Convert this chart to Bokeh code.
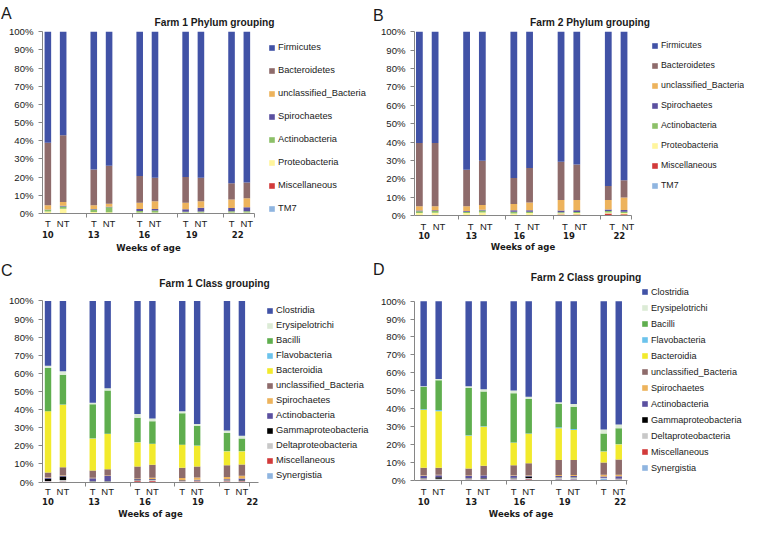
from bokeh.plotting import figure
from bokeh.models import (ColumnDataSource, Range1d, FixedTicker, LinearAxis, Legend,
                          LegendItem, Label, PrintfTickFormatter)
from bokeh.layouts import column, row
from bokeh.embed import file_html
from bokeh.resources import INLINE

# ---------------- data ----------------
SAMPLES = ["T10", "NT10", "T13", "NT13", "T16", "NT16", "T19", "NT19", "T22", "NT22"]
SLOT = [0, 1, 3, 4, 6, 7, 9, 10, 12, 13]
TREAT = ["T", "NT", "T", "NT", "T", "NT", "T", "NT", "T", "NT"]
WEEKS = ["10", "13", "16", "19", "22"]
GROUP_EDGES = [2.5, 5.5, 8.5, 11.5, 13.5]
Y_TICKS = [0, 10, 20, 30, 40, 50, 60, 70, 80, 90, 100]

PHYLA = ["TM7", "Miscellaneous", "Proteobacteria", "Actinobacteria", "Spirochaetes",
         "unclassified_Bacteria", "Bacteroidetes", "Firmicutes"]          # bottom -> top
CLASSES = ["Synergistia", "Miscellaneous", "Deltaproteobacteria", "Gammaproteobacteria",
           "Actinobacteria", "Spirochaetes", "unclassified_Bacteria", "Bacteroidia",
           "Flavobacteria", "Bacilli", "Erysipelotrichi", "Clostridia"]     # bottom -> top

# Farm 1, phylum (%)
F1P_TM7 = [0.1, 0.1, 0.1, 0.1, 0.1, 0.1, 0.1, 0.1, 0.1, 0.1]
F1P_MISC = [0.1, 0.1, 0.1, 0.1, 0.1, 0.1, 0.1, 0.1, 0.1, 0.1]
F1P_PROTEO = [0.9, 2.4, 0.6, 0.5, 0.4, 0.4, 0.3, 0.3, 0.3, 0.3]
F1P_ACTINO = [0.9, 1.3, 1.4, 2.7, 0.8, 1.0, 0.5, 0.6, 0.7, 0.8]
F1P_SPIRO = [0.2, 0.3, 0.3, 0.3, 1.1, 0.9, 1.3, 2.0, 1.8, 2.2]
F1P_UNCL = [2.3, 2.1, 2.0, 1.7, 3.4, 4.3, 3.6, 3.7, 4.7, 4.9]
F1P_BACT = [34.4, 36.7, 19.7, 20.9, 14.7, 12.9, 14.2, 12.9, 9.0, 8.6]
F1P_FIRM = [61.1, 57.0, 75.8, 73.7, 79.4, 80.3, 79.9, 80.3, 83.3, 83.0]

# Farm 2, phylum (%)
F2P_TM7 = [0.1, 0.1, 0.1, 0.1, 0.1, 0.1, 0.1, 0.1, 0.1, 0.1]
F2P_MISC = [0.1, 0.1, 0.1, 0.1, 0.2, 0.2, 0.5, 0.5, 1.0, 0.6]
F2P_PROTEO = [1.2, 1.3, 1.1, 1.5, 0.8, 1.0, 0.6, 0.7, 0.6, 0.6]
F2P_ACTINO = [0.9, 0.9, 0.8, 1.0, 1.0, 0.8, 0.6, 0.6, 0.7, 0.8]
F2P_SPIRO = [0.4, 0.4, 0.4, 0.4, 0.7, 0.7, 0.9, 0.9, 0.8, 0.9]
F2P_UNCL = [2.3, 2.2, 2.5, 2.6, 3.4, 4.3, 5.8, 5.7, 5.3, 6.8]
F2P_BACT = [34.4, 34.4, 19.9, 24.1, 14.2, 18.7, 20.8, 19.2, 7.5, 9.4]
F2P_FIRM = [60.6, 60.6, 75.1, 70.2, 79.6, 74.2, 70.7, 72.3, 84.0, 80.8]

# Farm 1, class (%)
F1C_SYN = [0.1, 0.1, 0.1, 0.1, 0.1, 0.1, 0.1, 0.1, 0.1, 0.1]
F1C_MISC = [0.2, 0.2, 0.1, 0.1, 0.4, 0.5, 0.2, 0.3, 0.3, 0.3]
F1C_DELTA = [0.3, 0.8, 0.2, 0.2, 0.5, 0.5, 0.3, 0.4, 0.5, 0.4]
F1C_GAMMA = [1.2, 2.0, 0.1, 0.1, 0.4, 0.3, 0.2, 0.2, 0.2, 0.3]
F1C_ACTINO = [0.5, 0.3, 1.6, 2.8, 0.2, 0.2, 0.2, 0.2, 0.4, 0.9]
F1C_SPIRO = [0.3, 0.3, 0.2, 0.3, 0.4, 0.7, 1.2, 1.3, 1.3, 1.5]
F1C_UNCL = [2.7, 4.5, 4.0, 3.4, 6.5, 7.2, 5.6, 6.0, 6.4, 6.2]
F1C_BACTEROIDIA = [33.7, 34.5, 17.7, 19.5, 13.5, 11.5, 12.7, 11.5, 7.8, 7.3]
F1C_FLAVO = [0.1, 0.1, 0.1, 0.1, 0.1, 0.1, 0.1, 0.1, 0.1, 0.1]
F1C_BACILLI = [23.8, 16.4, 18.8, 23.9, 13.4, 12.4, 17.4, 10.9, 9.9, 6.9]
F1C_ERYS = [1.3, 2.0, 0.9, 1.3, 2.0, 1.5, 1.0, 1.0, 1.5, 1.5]
F1C_CLOST = [35.8, 38.8, 56.2, 48.2, 62.5, 65.0, 61.0, 68.0, 71.5, 74.5]

# Farm 2, class (%)
F2C_SYN = [0.3, 0.1, 0.3, 0.3, 0.3, 0.3, 0.4, 0.4, 0.8, 0.3]
F2C_MISC = [0.1, 0.1, 0.1, 0.1, 0.1, 0.2, 0.2, 0.2, 0.1, 0.1]
F2C_DELTA = [0.6, 0.5, 0.6, 0.5, 0.6, 0.6, 1.0, 1.0, 0.2, 0.3]
F2C_GAMMA = [0.1, 0.8, 0.1, 0.2, 0.2, 0.8, 0.1, 0.1, 0.1, 0.2]
F2C_ACTINO = [1.3, 1.2, 1.2, 1.5, 1.2, 0.6, 0.6, 0.6, 0.8, 1.2]
F2C_SPIRO = [0.2, 0.2, 0.2, 0.2, 0.3, 0.3, 0.5, 0.5, 1.0, 0.8]
F2C_UNCL = [4.2, 3.9, 4.0, 5.2, 5.5, 6.5, 8.4, 8.4, 6.8, 8.6]
F2C_BACTEROIDIA = [32.4, 31.7, 18.3, 21.8, 12.6, 16.5, 17.8, 16.8, 6.2, 8.5]
F2C_FLAVO = [0.3, 0.6, 0.2, 0.2, 0.2, 0.2, 0.5, 0.5, 0.1, 0.1]
F2C_BACILLI = [12.5, 16.7, 26.5, 19.5, 27.5, 19.3, 13.0, 12.5, 9.9, 8.9]
F2C_ERYS = [0.5, 0.7, 1.0, 1.3, 1.5, 1.2, 1.0, 1.5, 2.2, 2.0]
F2C_CLOST = [47.5, 43.5, 47.5, 49.2, 50.0, 53.5, 56.5, 57.5, 71.8, 69.0]

F1P = [F1P_TM7, F1P_MISC, F1P_PROTEO, F1P_ACTINO, F1P_SPIRO, F1P_UNCL, F1P_BACT, F1P_FIRM]
F2P = [F2P_TM7, F2P_MISC, F2P_PROTEO, F2P_ACTINO, F2P_SPIRO, F2P_UNCL, F2P_BACT, F2P_FIRM]
F1C = [F1C_SYN, F1C_MISC, F1C_DELTA, F1C_GAMMA, F1C_ACTINO, F1C_SPIRO, F1C_UNCL,
       F1C_BACTEROIDIA, F1C_FLAVO, F1C_BACILLI, F1C_ERYS, F1C_CLOST]
F2C = [F2C_SYN, F2C_MISC, F2C_DELTA, F2C_GAMMA, F2C_ACTINO, F2C_SPIRO, F2C_UNCL,
       F2C_BACTEROIDIA, F2C_FLAVO, F2C_BACILLI, F2C_ERYS, F2C_CLOST]

# ---------------- styles ----------------
BLUE = "#4152A6"
BROWN = "#8E6B6B"
ORANGE = "#EDB35C"
PURPLE = "#5B50A0"
RED = "#D23A3A"
LBLUE = "#8FB5E0"
PHYLA_COLORS = [LBLUE, RED, "#FFF59D", "#8CC068", PURPLE, ORANGE, BROWN, BLUE]
CLASS_COLORS = [LBLUE, RED, "#C8C8C8", "#000000", PURPLE, ORANGE, BROWN, "#F2EA2C",
                "#6CC3EC", "#5FAE4E", "#DCEBD6", BLUE]

AXIS_GREY = "#868686"
TXT = "#1a1a1a"
FONT = "Liberation Sans"


def make_panel(letter, title, names, series, colors, cfg):
    W, H = cfg["W"], cfg["H"]
    L, R, T, B = cfg["box"]          # pixel box of the 0..100 % plotting area
    xr0, xr1 = cfg["xr"]
    sx = (R - L) / (xr1 - xr0)
    sy = (B - T) / 100.0
    x_range = Range1d(xr0 - L / sx, xr1 + (W - R) / sx)
    y_range = Range1d(-(H - B) / sy, 100 + T / sy)

    p = figure(width=W, height=H, title=None, x_range=x_range, y_range=y_range,
               output_backend="svg", toolbar_location=None, min_border=0)
    p.xgrid.visible = False
    p.ygrid.visible = False
    p.outline_line_color = None
    p.background_fill_color = "white"
    p.border_fill_color = "white"

    data = {"x": SLOT, "sample": SAMPLES}
    for n, s in zip(names, series):
        data[n] = s
    src = ColumnDataSource(data)
    rs = p.vbar_stack(names, x="x", width=0.43, source=src,
                      fill_color=colors, line_color=None)

    # y axis (placed inside the frame at the left end of the category range)
    ya = p.yaxis[0]
    ya.fixed_location = xr0
    ya.bounds = (0, 100)
    ya.ticker = FixedTicker(ticks=Y_TICKS)
    ya.formatter = PrintfTickFormatter(format="%d%%")
    ya.axis_line_color = AXIS_GREY
    ya.major_tick_line_color = AXIS_GREY
    ya.major_tick_out = 4
    ya.major_tick_in = 0
    ya.minor_tick_line_color = None
    ya.major_label_standoff = 5
    ya.major_label_text_font = FONT
    ya.major_label_text_font_size = "9.6px"
    ya.major_label_text_color = TXT

    # x axis: T / NT
    off = cfg["off"]
    tpos = [s + off for s in SLOT]
    xa = p.xaxis[0]
    xa.fixed_location = 0
    xa.bounds = (xr0, xr1)
    xa.ticker = FixedTicker(ticks=tpos, minor_ticks=GROUP_EDGES)
    xa.major_label_overrides = {t: lab for t, lab in zip(tpos, TREAT)}
    xa.axis_line_color = AXIS_GREY
    xa.major_tick_line_color = None
    xa.major_tick_out = 0
    xa.major_tick_in = 0
    xa.minor_tick_line_color = AXIS_GREY
    xa.minor_tick_out = 4
    xa.minor_tick_in = 0
    xa.major_label_standoff = cfg["tn_so"]
    xa.major_label_text_font = FONT
    xa.major_label_text_font_size = "9.5px"
    xa.major_label_text_color = TXT

    # x axis: weeks
    wk = cfg["wk"]
    wa = LinearAxis(ticker=FixedTicker(ticks=wk), fixed_location=0, bounds=(xr0, xr1),
                    major_label_overrides={t: lab for t, lab in zip(wk, WEEKS)},
                    axis_line_color=None, major_tick_line_color=None,
                    minor_tick_line_color=None, major_tick_out=0, major_tick_in=0,
                    major_label_standoff=cfg["wk_so"],
                    major_label_text_font="DejaVu Sans", major_label_text_font_style="bold",
                    major_label_text_font_size="8.5px", major_label_text_color=TXT,
                    axis_label="Weeks of age", axis_label_standoff=cfg["al_so"],
                    axis_label_text_font="DejaVu Sans", axis_label_text_font_style="bold",
                    axis_label_text_font_size="8.5px", axis_label_text_color=TXT)
    p.add_layout(wa, "below")

    # legend (top series first)
    n = len(names)
    sp = cfg["sp"]
    leg_h = n * 12 + (n - 1) * sp
    leg_y = H - (cfg["lc"] - 6) - leg_h
    items = [LegendItem(label=nm, renderers=[r]) for nm, r in reversed(list(zip(names, rs)))]
    leg = Legend(items=items, location=(cfg["lx"], leg_y), glyph_width=7, glyph_height=7,
                 label_height=12, label_standoff=3, spacing=sp, padding=0, margin=0,
                 border_line_color=None, background_fill_alpha=0,
                 label_text_font=FONT, label_text_font_size=cfg["lfs"], label_text_color=TXT)
    p.add_layout(leg)

    # title and panel letter
    p.add_layout(Label(x=cfg["tx"], y=H - cfg["ty"], x_units="screen", y_units="screen",
                       text=title, text_align="center", text_baseline="alphabetic",
                       text_font=FONT, text_font_style="bold", text_font_size="10.2px",
                       text_color=TXT))
    p.add_layout(Label(x=0.5, y=H - cfg["ly"], x_units="screen", y_units="screen",
                       text=letter, text_align="left", text_baseline="alphabetic",
                       text_font=FONT, text_font_size="16px", text_color=TXT))
    return p


cfgA = dict(W=372, H=259, box=(42, 254, 31.3, 213), xr=(-0.35, 13.5), off=0.0,
            wk=[0.0, 3.0, 6.3, 9.4, 12.4], tn_so=0, wk_so=17, al_so=2,
            lx=268, lc=47, sp=11, lfs="9.3px", tx=214, ty=22, ly=13)
cfgB = dict(W=372, H=259, box=(42, 259.4, 31.3, 215), xr=(-0.31, 13.5), off=0.25,
            wk=[0.3, 3.3, 6.35, 9.5, 12.7], tn_so=1, wk_so=16, al_so=0,
            lx=279, lc=45, sp=8, lfs="8.8px", tx=217.5, ty=22, ly=14.7)
cfgC = dict(W=372, H=260, box=(42, 257.5, 41.4, 222.5), xr=(-0.37, 14.08), off=0.0,
            wk=[0.0, 3.09, 6.5, 10.05, 13.7], tn_so=0, wk_so=16, al_so=0,
            lx=266, lc=51, sp=3, lfs="9.3px", tx=214, ty=24, ly=10.6)
cfgD = dict(W=372, H=260, box=(42, 254.5, 41.7, 220.5), xr=(-0.61, 13.55), off=0.0,
            wk=[0.0, 3.17, 6.38, 9.4, 13.1], tn_so=2, wk_so=18, al_so=0,
            lx=269, lc=32.7, sp=4, lfs="9.1px", tx=213.5, ty=17.6, ly=10)

pA = make_panel("A", "Farm 1 Phylum grouping", PHYLA, F1P, PHYLA_COLORS, cfgA)
pB = make_panel("B", "Farm 2 Phylum grouping", PHYLA, F2P, PHYLA_COLORS, cfgB)
pC = make_panel("C", "Farm 1 Class grouping", CLASSES, F1C, CLASS_COLORS, cfgC)
pD = make_panel("D", "Farm 2 Class grouping", CLASSES, F2C, CLASS_COLORS, cfgD)

layout = column(row(pA, pB), row(pC, pD))
open("out.html", "w").write(file_html(layout, INLINE))
